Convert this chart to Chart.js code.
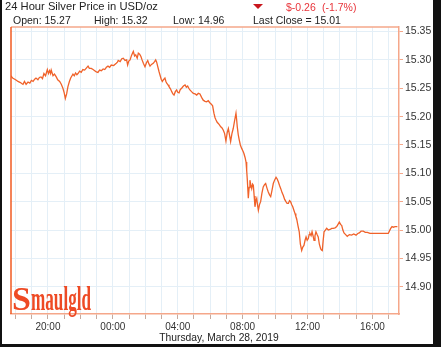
<!DOCTYPE html>
<html>
<head>
<meta charset="utf-8">
<script src="https://cdn.jsdelivr.net/npm/chart.js@4.4.1/dist/chart.umd.min.js"></script>
<style>
  html, body { margin: 0; padding: 0; background: #111; }
  body { width: 441px; height: 347px; position: relative; overflow: hidden; font-family: "Liberation Sans", Arial, sans-serif; }
  #paper { position: absolute; left: 2px; top: 0; width: 431px; height: 344px; background: #fff; }
  #chart { position: absolute; left: 0; top: 0; }
  .txt { position: absolute; white-space: nowrap; line-height: 1; color: #222; }
  .red { color: #e8343a; }
  #down { position: absolute; left: 253px; top: 4px; width: 0; height: 0;
          border-left: 5px solid transparent; border-right: 5px solid transparent; border-top: 5px solid #c8161d; }
  #logo { position: absolute; left: 12px; top: 280px; color: #ee4a24; font-family: "Liberation Serif", serif; font-weight: bold; white-space: nowrap; }
  #logo .s { font-size: 34px; display: inline-block; vertical-align: baseline; }
  #logo .rest { font-size: 33px; display: inline-block; transform: scaleX(0.52); transform-origin: left bottom; vertical-align: baseline; }
</style>
</head>
<body>
<div id="paper"></div>
<canvas id="chart" width="433" height="343"></canvas>

<div class="txt" style="left:5px; top:1px; font-size:11.2px;">24 Hour Silver Price in USD/oz</div>
<div id="down"></div>
<div class="txt red" style="left:286px; top:2px; font-size:10.5px;">$-0.26</div>
<div class="txt red" style="left:322px; top:2px; font-size:10.5px;">(-1.7%)</div>
<div class="txt" style="left:13px; top:15px; font-size:10.5px;">Open: 15.27</div>
<div class="txt" style="left:94px; top:15px; font-size:10.5px;">High: 15.32</div>
<div class="txt" style="left:173px; top:15px; font-size:10.5px;">Low: 14.96</div>
<div class="txt" style="left:253px; top:15px; font-size:10.5px;">Last Close = 15.01</div>
<div class="txt" style="left:0; width:438px; text-align:center; top:333px; font-size:10.3px;">Thursday, March 28, 2019</div>
<div id="logo"><span class="s">S</span><span class="rest">maulgld</span></div>

<script>
// hours relative to midnight of March 28 (negative = March 27)
const hours = [
  -6.30, -6.18, -6.05, -5.95, -5.85, -5.70, -5.60, -5.54, -5.45, -5.35,
  -5.23, -5.12, -5.02, -4.92, -4.82, -4.74, -4.62, -4.53, -4.43, -4.34,
  -4.25, -4.15, -4.04, -3.97, -3.90, -3.84, -3.80, -3.69, -3.60, -3.49,
  -3.40, -3.28, -3.18, -3.08, -3.00, -2.93, -2.85, -2.77, -2.68, -2.60,
  -2.52, -2.46, -2.38, -2.30, -2.22, -2.15, -2.05, -1.95, -1.85, -1.74,
  -1.65, -1.53, -1.45, -1.33, -1.22, -1.12, -1.02, -0.92, -0.82, -0.71,
  -0.60, -0.50, -0.40, -0.30, -0.20, -0.10, 0.05, 0.21, 0.28, 0.33,
  0.45, 0.55, 0.64, 0.75, 0.85, 0.91, 0.98, 1.06, 1.15, 1.26,
  1.34, 1.41, 1.50, 1.57, 1.65, 1.73, 1.80, 1.88, 1.98, 2.07,
  2.15, 2.22, 2.29, 2.38, 2.49, 2.57, 2.64, 2.70, 2.76, 2.84,
  2.91, 2.98, 3.05, 3.12, 3.21, 3.27, 3.32, 3.40, 3.46, 3.55,
  3.63, 3.70, 3.77, 3.85, 3.93, 4.00, 4.08, 4.16, 4.24, 4.35,
  4.45, 4.53, 4.61, 4.68, 4.75, 4.85, 4.96, 5.07, 5.17, 5.27,
  5.37, 5.47, 5.57, 5.68, 5.78, 5.88, 5.99, 6.07, 6.15, 6.23,
  6.30, 6.36, 6.43, 6.50, 6.58, 6.65, 6.73, 6.81, 6.89, 6.97,
  7.05, 7.12, 7.19, 7.26, 7.34, 7.42, 7.50, 7.59, 7.63, 7.67,
  7.73, 7.79, 7.86, 7.94, 8.01, 8.08, 8.15, 8.21, 8.25, 8.29,
  8.35, 8.40, 8.45, 8.50, 8.56, 8.61, 8.66, 8.71, 8.76, 8.82,
  8.87, 8.92, 8.97, 9.04, 9.11, 9.19, 9.27, 9.35, 9.42, 9.50,
  9.58, 9.66, 9.73, 9.81, 9.89, 9.97, 10.06, 10.13, 10.20, 10.27,
  10.35, 10.43, 10.51, 10.59, 10.67, 10.74, 10.82, 10.89, 10.96, 11.02,
  11.09, 11.16, 11.23, 11.28, 11.33, 11.41, 11.49, 11.56, 11.64, 11.71,
  11.78, 11.85, 11.91, 11.98, 12.05, 12.10, 12.15, 12.22, 12.28, 12.34,
  12.40, 12.46, 12.52, 12.59, 12.66, 12.73, 12.81, 12.86, 12.91, 12.96,
  13.02, 13.10, 13.18, 13.28, 13.39, 13.49, 13.59, 13.70, 13.80, 13.88,
  13.96, 14.04, 14.11, 14.18, 14.25, 14.35, 14.45, 14.58, 14.72, 14.85,
  14.99, 15.10, 15.19, 15.30, 15.44, 15.56, 15.69, 15.85, 16.27, 16.60,
  16.98, 17.06, 17.13, 17.21, 17.29, 17.40, 17.54
];
const prices = [
  15.272, 15.268, 15.266, 15.264, 15.262, 15.260, 15.258, 15.257, 15.262, 15.257,
  15.261, 15.259, 15.264, 15.262, 15.266, 15.268, 15.265, 15.269, 15.270, 15.267,
  15.276, 15.272, 15.283, 15.276, 15.281, 15.276, 15.282, 15.272, 15.275, 15.270,
  15.265, 15.262, 15.257, 15.250, 15.242, 15.232, 15.240, 15.253, 15.262, 15.268,
  15.272, 15.275, 15.272, 15.277, 15.274, 15.276, 15.280, 15.278, 15.283, 15.282,
  15.285, 15.289, 15.285, 15.285, 15.283, 15.281, 15.279, 15.278, 15.282, 15.281,
  15.284, 15.283, 15.287, 15.289, 15.287, 15.291, 15.290, 15.294, 15.296, 15.299,
  15.297, 15.302, 15.303, 15.299, 15.300, 15.291, 15.298, 15.300, 15.308, 15.315,
  15.307, 15.309, 15.303, 15.312, 15.310, 15.306, 15.300, 15.294, 15.288, 15.295,
  15.299, 15.293, 15.289, 15.292, 15.294, 15.297, 15.300, 15.296, 15.289, 15.280,
  15.273, 15.266, 15.262, 15.265, 15.268, 15.262, 15.259, 15.256, 15.253, 15.249,
  15.244, 15.240, 15.238, 15.244, 15.247, 15.243, 15.242, 15.248, 15.250, 15.254,
  15.256, 15.252, 15.254, 15.250, 15.247, 15.244, 15.241, 15.240, 15.238, 15.241,
  15.240, 15.234, 15.229, 15.227, 15.226, 15.228, 15.224, 15.222, 15.219, 15.206,
  15.198, 15.194, 15.190, 15.188, 15.185, 15.182, 15.180, 15.176, 15.170, 15.157,
  15.172, 15.179, 15.168, 15.156, 15.170, 15.179, 15.192, 15.206, 15.195, 15.182,
  15.168, 15.159, 15.150, 15.144, 15.140, 15.135, 15.128, 15.120, 15.105, 15.088,
  15.056, 15.075, 15.088, 15.080, 15.073, 15.081, 15.079, 15.060, 15.041, 15.052,
  15.056, 15.044, 15.035, 15.045, 15.050, 15.065, 15.076, 15.080, 15.082, 15.074,
  15.067, 15.062, 15.059, 15.070, 15.082, 15.088, 15.093, 15.090, 15.085, 15.079,
  15.073, 15.066, 15.061, 15.054, 15.050, 15.047, 15.047, 15.052, 15.050, 15.045,
  15.041, 15.035, 15.029, 15.024, 15.020, 15.008, 14.997, 14.975, 14.964, 14.970,
  14.973, 14.982, 14.988, 14.982, 14.985, 14.992, 14.994, 14.990, 14.997, 14.990,
  14.982, 14.990, 14.997, 14.992, 14.988, 14.975, 14.967, 14.965, 14.964, 14.980,
  14.997, 15.000, 15.003, 15.000, 15.001, 15.003, 15.003, 15.004, 15.006, 15.010,
  15.014, 15.010, 15.008, 15.000, 14.995, 14.992, 14.989, 14.992, 14.991, 14.993,
  14.991, 14.994, 14.995, 14.998, 14.998, 14.996, 14.996, 14.994, 14.994, 14.994,
  14.994, 14.999, 15.003, 15.006, 15.005, 15.006, 15.006
];
const hourTicks = [-6, -5, -4, -3, -2, -1, 0, 1, 2, 3, 4, 5, 6, 7, 8, 9, 10, 11, 12, 13, 14, 15, 16, 17];
const priceTicks = [14.90, 14.95, 15.00, 15.05, 15.10, 15.15, 15.20, 15.25, 15.30, 15.35];

const gridColor = "#e4eff7";
const frameColor = "#f5a78a";

// top and left edges of the plot frame
const framePlugin = {
    id: "frame",
    afterDraw(chart) {
        const { ctx, chartArea: a } = chart;
        ctx.save();
        ctx.lineWidth = 1.5;
        ctx.strokeStyle = frameColor;
        ctx.beginPath();
        ctx.moveTo(a.left, a.top);
        ctx.lineTo(a.right, a.top);
        ctx.stroke();
        ctx.strokeStyle = "#f05a22";
        ctx.beginPath();
        ctx.moveTo(a.left, a.top);
        ctx.lineTo(a.left, a.bottom);
        ctx.stroke();
        ctx.restore();
    }
};

const ctx = document.getElementById("chart").getContext("2d");

new Chart(ctx, {
    type: "line",
    data: {
        datasets: [{
            label: "Silver",
            data: hours.map((h, i) => ({ x: h, y: prices[i] })),
            borderColor: "#f0622a",
            borderWidth: 1.3,
            pointRadius: 0,
            tension: 0,
            fill: false
        }]
    },
    options: {
        responsive: false,
        animation: false,
        devicePixelRatio: 1,
        layout: { padding: { left: 11, top: 27, right: 0, bottom: 0 } },
        plugins: {
            legend: { display: false },
            tooltip: { enabled: false }
        },
        scales: {
            x: {
                type: "linear",
                min: -6.28,
                max: 17.64,
                afterBuildTicks: s => { s.ticks = hourTicks.map(v => ({ value: v })); },
                afterFit: s => { s.height = 29; },
                ticks: {
                    autoSkip: false,
                    maxRotation: 0,
                    minRotation: 0,
                    padding: 2,
                    color: "#333",
                    font: { family: "Liberation Sans", size: 10 },
                    callback: v => {
                        if (v % 4 !== 0) return "";
                        const h = ((v % 24) + 24) % 24;
                        return String(h).padStart(2, "0") + ":00";
                    }
                },
                grid: { color: gridColor, tickLength: 5, tickColor: "#c7aa9e" },
                border: { color: frameColor, width: 1.5 }
            },
            y: {
                position: "right",
                min: 14.852,
                max: 15.358,
                afterBuildTicks: s => { s.ticks = priceTicks.map(v => ({ value: v })); },
                afterFit: s => { s.width = 34; },
                ticks: {
                    padding: 2,
                    color: "#333",
                    font: { family: "Liberation Sans", size: 10.5 },
                    callback: v => v.toFixed(2)
                },
                grid: { color: gridColor, tickLength: 4, tickColor: frameColor },
                border: { color: frameColor, width: 1.5 }
            }
        }
    },
    plugins: [framePlugin]
});
</script>
</body>
</html>
